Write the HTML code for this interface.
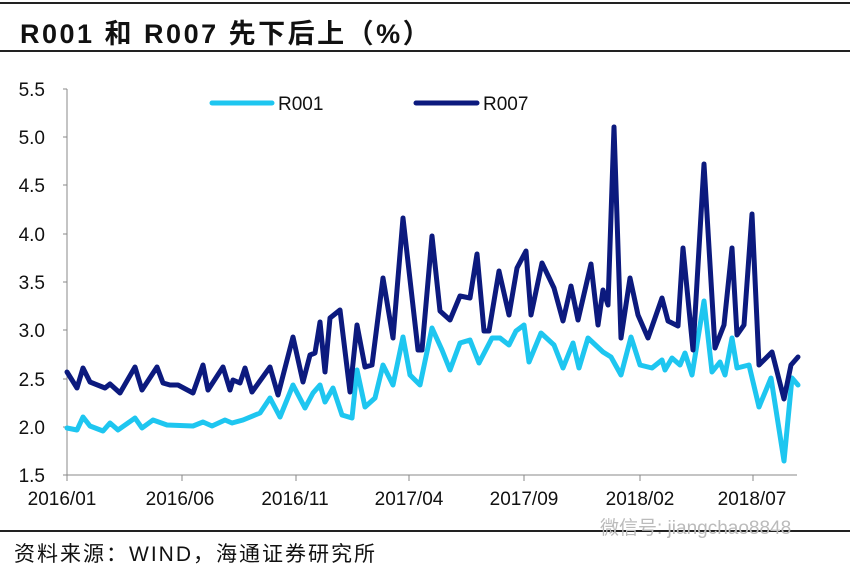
<!DOCTYPE html>
<html><head><meta charset="utf-8"><style>
body{margin:0;background:#fff;}
svg{display:block;font-family:"Liberation Sans","Noto Sans CJK SC",sans-serif;}
</style></head><body>
<svg width="850" height="567" viewBox="0 0 850 567">
<rect width="850" height="567" fill="#fff"/>
<line x1="0" y1="3" x2="850" y2="3" stroke="#222" stroke-width="2"/>
<text x="20" y="43" font-size="27" font-weight="bold" fill="#111" letter-spacing="2.5">R001 和 R007 先下后上（%）</text>
<line x1="0" y1="51" x2="850" y2="51" stroke="#222" stroke-width="2"/>
<g font-size="19" fill="#111" text-anchor="end">
<text x="45" y="96">5.5</text><text x="45" y="144">5.0</text><text x="45" y="192">4.5</text>
<text x="45" y="241">4.0</text><text x="45" y="289">3.5</text><text x="45" y="337">3.0</text>
<text x="45" y="386">2.5</text><text x="45" y="434">2.0</text><text x="45" y="482">1.5</text>
</g>
<g stroke="#888" stroke-width="1">
<line x1="67" y1="89" x2="67" y2="475"/>
<line x1="63" y1="89" x2="67" y2="89"/><line x1="63" y1="137" x2="67" y2="137"/><line x1="63" y1="185" x2="67" y2="185"/><line x1="63" y1="234" x2="67" y2="234"/><line x1="63" y1="282" x2="67" y2="282"/><line x1="63" y1="330" x2="67" y2="330"/><line x1="63" y1="379" x2="67" y2="379"/><line x1="63" y1="427" x2="67" y2="427"/>
<line x1="63" y1="475" x2="797" y2="475"/>
<line x1="67" y1="475" x2="67" y2="481"/><line x1="182" y1="475" x2="182" y2="481"/><line x1="296" y1="475" x2="296" y2="481"/><line x1="409" y1="475" x2="409" y2="481"/><line x1="524" y1="475" x2="524" y2="481"/><line x1="640" y1="475" x2="640" y2="481"/><line x1="753" y1="475" x2="753" y2="481"/>
</g>
<g font-size="19" fill="#111" text-anchor="middle">
<text x="62" y="505">2016/01</text><text x="180" y="505">2016/06</text><text x="295" y="505">2016/11</text><text x="409" y="505">2017/04</text><text x="524" y="505">2017/09</text><text x="640" y="505">2018/02</text><text x="752" y="505">2018/07</text>
</g>
<polyline fill="none" stroke="#1ec6f0" stroke-width="5" stroke-linejoin="round" stroke-linecap="round" points="67,428 77,430 83,417 90,426 103,431 110,423 118,430 135,418 142,428 153,420 167,425 193,426 203,422 212,426 225,420 232,423 243,420 260,413 270,398 280,417 293,385 305,408 313,393 320,385 325,402 333,388 342,415 352,418 357,370 365,407 375,398 383,365 393,385 403,337 410,375 420,385 432,328 442,350 450,370 460,343 470,340 479,363 492,338 500,338 509,345 516,331 524,325 529,362 541,333 554,345 563,368 573,343 579,368 588,338 603,352 611,357 621,375 631,337 640,365 652,368 662,360 665,370 672,358 680,365 685,353 692,375 704,301 712,372 720,362 725,375 732,338 737,368 749,365 759,407 771,378 784,461 792,378 798,385"/>
<polyline fill="none" stroke="#0c1a7e" stroke-width="5" stroke-linejoin="round" stroke-linecap="round" points="67,372 77,388 83,368 90,382 105,388 110,384 120,393 135,367 142,390 157,367 163,383 170,385 178,385 193,393 203,365 208,390 223,367 230,390 233,380 240,383 245,368 252,392 270,367 278,395 293,337 303,382 310,355 315,353 320,322 325,372 330,318 340,310 350,392 357,325 365,367 372,365 383,278 393,338 403,218 418,350 422,350 432,236 440,311 450,320 460,296 470,298 477,254 484,331 489,331 499,271 509,315 517,268 526,251 531,315 542,263 554,288 563,321 571,286 578,320 591,264 598,325 603,290 608,305 614,127 621,338 630,278 638,315 648,338 662,298 668,321 678,326 683,248 693,350 704,164 715,348 724,325 732,248 737,335 744,325 752,214 759,365 772,352 784,399 791,365 798,357"/>
<line x1="212" y1="103" x2="272" y2="103" stroke="#1ec6f0" stroke-width="5" stroke-linecap="round"/>
<text x="278" y="110" font-size="19" fill="#111">R001</text>
<line x1="416" y1="103" x2="477" y2="103" stroke="#0c1a7e" stroke-width="5" stroke-linecap="round"/>
<text x="483" y="110" font-size="19" fill="#111">R007</text>
<line x1="0" y1="531" x2="850" y2="531" stroke="#222" stroke-width="2"/>
<text x="600" y="534" font-size="19" fill="#bbb">微信号: jiangchao8848</text>
<text x="14" y="561" font-size="21" fill="#111" letter-spacing="2">资料来源：WIND，海通证券研究所</text>
</svg>
</body></html>
